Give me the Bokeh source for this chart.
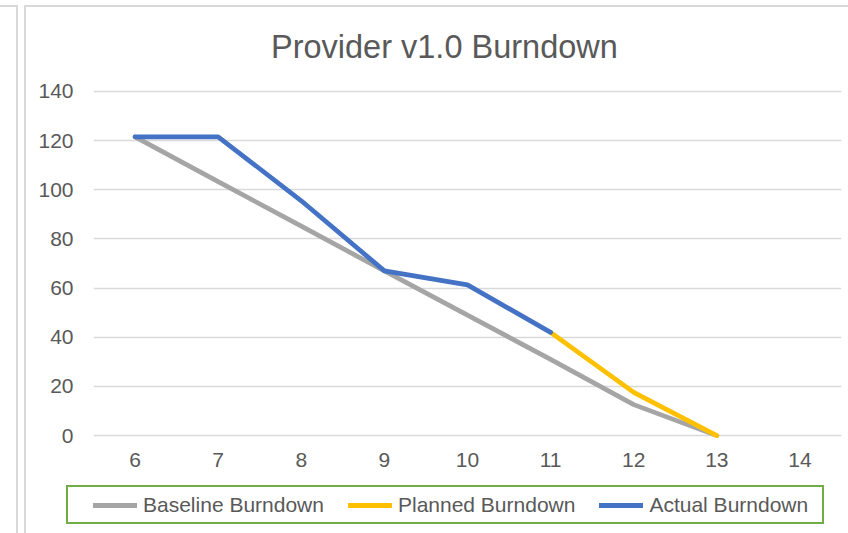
from bokeh.plotting import figure
from bokeh.models import Range1d, FixedTicker, Legend, LegendItem
from bokeh.layouts import column
from bokeh.embed import file_html
from bokeh.resources import INLINE

nan = float("nan")

# ---- data ----
days = [6, 7, 8, 9, 10, 11, 12, 13, 14]
baseline = [121.5, 103.3, 85.2, 67, 49, 31, 12.6, 0, nan]
planned = [nan, nan, nan, nan, nan, 42, 17.6, 0, nan]
actual = [121.5, 121.5, 95.5, 67, 61.3, 42, nan, nan, nan]
y_ticks = [0, 20, 40, 60, 80, 100, 120, 140]
title_text = "Provider v1.0 Burndown"
series_names = ["Baseline Burndown", "Planned Burndown", "Actual Burndown"]
series_colors = ["#A5A5A5", "#FFC000", "#4472C4"]

FONT = "Liberation Sans"
TXT = "#595959"
SHEET = "#D9D9D9"
GREEN = "#70AD47"

W, H1, H2 = 848, 478, 55


# decorative sheet / legend frame lines drawn as CSS background of the figure hosts
def rect(x, y, w, h, col):
    return (f"linear-gradient({col},{col})", f"{x}px {y}px", f"{w}px {h}px")


def css_of(deco):
    return {
        "background-image": ", ".join(d[0] for d in deco),
        "background-position": ", ".join(d[1] for d in deco),
        "background-size": ", ".join(d[2] for d in deco),
        "background-repeat": "no-repeat",
        "background-color": "white",
    }


deco_main = [
    rect(16, 5, 2, H1 - 5, SHEET),
    rect(0, 5, 18, 2, SHEET),
    rect(24, 5, 2, H1 - 5, SHEET),
    rect(24, 5, W - 24, 2, SHEET),
]
deco_leg = [
    rect(16, 0, 2, H2, SHEET),
    rect(24, 0, 2, H2, SHEET),
    rect(66, 7, 758, 2, GREEN),
    rect(66, 44, 758, 2, GREEN),
    rect(66, 7, 2, 39, GREEN),
    rect(822, 7, 2, 39, GREEN),
]

# ---- main chart ----
p = figure(width=W, height=H1, output_backend="svg", toolbar_location=None,
           x_range=Range1d(5.5, 14.5), y_range=Range1d(-4, 144),
           min_border_left=93, min_border_right=7, min_border_top=81, min_border_bottom=H1 - 445,
           styles=css_of(deco_main))
p.outline_line_color = None
p.background_fill_color = None
p.border_fill_color = None

p.title.text = title_text
p.title.align = "left"
p.title.offset = 177.5
p.title.standoff = 34
p.title.text_font = FONT
p.title.text_font_size = "32.5px"
p.title.text_font_style = "normal"
p.title.text_color = TXT

p.xaxis.ticker = FixedTicker(ticks=days)
p.yaxis.ticker = FixedTicker(ticks=y_ticks)
for ax in (p.xaxis, p.yaxis):
    ax.axis_line_color = None
    ax.major_tick_line_color = None
    ax.minor_tick_line_color = None
    ax.major_tick_out = 0
    ax.major_tick_in = 0
    ax.major_label_text_font = FONT
    ax.major_label_text_font_size = "21px"
    ax.major_label_text_color = TXT
p.xaxis.major_label_standoff = 7
p.yaxis.major_label_standoff = 20

p.xgrid.grid_line_color = None
p.ygrid.grid_line_color = SHEET
p.ygrid.grid_line_width = 1.6

series = [baseline, planned, actual]
for vals, col in zip(series, series_colors):
    p.line(days, vals, line_color=col, line_width=4.7, line_cap="round", line_join="round")

# ---- legend strip (own small canvas; its ranges keep the proxy lines out of view) ----
q = figure(width=W, height=H2, output_backend="svg", toolbar_location=None,
           x_range=Range1d(100, 101), y_range=Range1d(1000, 1001),
           x_axis_location=None, y_axis_location=None,
           min_border_left=0, min_border_right=0, min_border_top=0, min_border_bottom=0,
           styles=css_of(deco_leg))
q.outline_line_color = None
q.background_fill_color = None
q.border_fill_color = None
q.grid.visible = False

proxies = [q.line(days, vals, line_color=col, line_width=5, line_cap="round")
           for vals, col in zip(series, series_colors)]

legend = Legend(items=[LegendItem(label=n, renderers=[r]) for n, r in zip(series_names, proxies)],
                orientation="horizontal", location=(0, 16.5), padding=0, margin=0,
                spacing=24, label_standoff=6, glyph_width=44, glyph_height=24,
                label_height=24, border_line_color=None, background_fill_alpha=0,
                label_text_font=FONT, label_text_font_size="21px", label_text_color=TXT)
q.add_layout(legend)

layout = column(p, q, spacing=0)
open("out.html", "w").write(file_html(layout, INLINE))
